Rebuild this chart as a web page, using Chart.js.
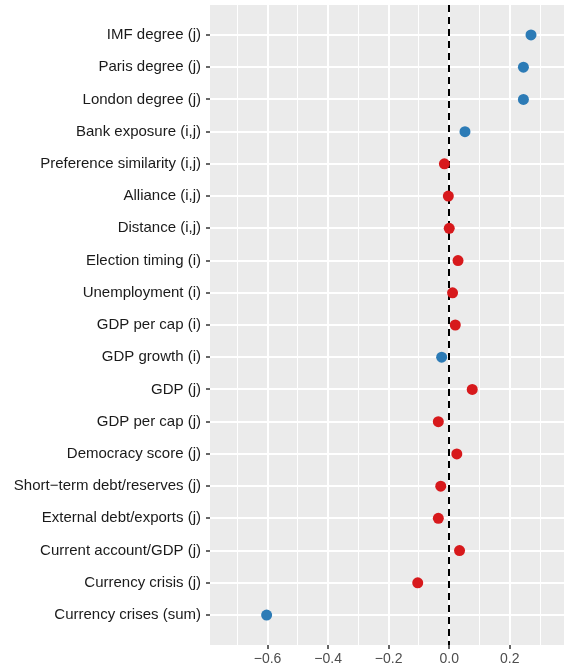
<!DOCTYPE html>
<html>
<head>
<meta charset="utf-8">
<script src="https://cdn.jsdelivr.net/npm/chart.js@4/dist/chart.umd.min.js"></script>
<style>
  html, body { margin: 0; padding: 0; background: #ffffff; }
  #wrap { width: 564px; height: 670px; position: relative; }
</style>
</head>
<body>
<div id="wrap"><canvas id="c" width="564" height="670"></canvas></div>
<script>
// Categories, top to bottom
const categories = [
  "IMF degree (j)",
  "Paris degree (j)",
  "London degree (j)",
  "Bank exposure (i,j)",
  "Preference similarity (i,j)",
  "Alliance (i,j)",
  "Distance (i,j)",
  "Election timing (i)",
  "Unemployment (i)",
  "GDP per cap (i)",
  "GDP growth (i)",
  "GDP (j)",
  "GDP per cap (j)",
  "Democracy score (j)",
  "Short\u2212term debt/reserves (j)",
  "External debt/exports (j)",
  "Current account/GDP (j)",
  "Currency crisis (j)",
  "Currency crises (sum)"
];
// Estimates
const estimates = [0.270, 0.245, 0.245, 0.052, -0.016, -0.003, 0.000, 0.029, 0.011, 0.020,
                   -0.025, 0.076, -0.036, 0.025, -0.028, -0.036, 0.034, -0.104, -0.603];
// Group: "blue" or "red"
const groups = ["blue","blue","blue","blue","red","red","red","red","red","red",
                "blue","red","red","red","red","red","red","red","blue"];
const xMajorTicks = [-0.6, -0.4, -0.2, 0.0, 0.2];
const xMinorTicks = [-0.7, -0.5, -0.3, -0.1, 0.1, 0.3];
const xTickLabels = ["\u22120.6", "\u22120.4", "\u22120.2", "0.0", "0.2"];

const groupColors = { red: "#D7191C", blue: "#2C7BB6" };

const points = estimates.map((v, i) => ({ x: v, y: i }));

const panelBg = {
  id: 'panelBg',
  beforeDraw(chart) {
    const { ctx, chartArea: a } = chart;
    ctx.save();
    ctx.fillStyle = '#EBEBEB';
    ctx.fillRect(a.left, a.top, a.right - a.left, a.bottom - a.top);
    ctx.restore();
  },
  beforeDatasetsDraw(chart) {
    const { ctx, chartArea: a, scales } = chart;
    const x0 = Math.round(scales.x.getPixelForValue(0));
    ctx.save();
    ctx.strokeStyle = '#000000';
    ctx.lineWidth = 2;
    ctx.setLineDash([7, 5]);
    ctx.beginPath();
    ctx.moveTo(x0, a.top);
    ctx.lineTo(x0, a.bottom);
    ctx.stroke();
    ctx.restore();
  }
};

const allX = xMajorTicks.concat(xMinorTicks).sort((a, b) => a - b);
const isMajor = v => xMajorTicks.some(m => Math.abs(m - v) < 1e-9);

new Chart(document.getElementById('c'), {
  type: 'scatter',
  data: {
    datasets: [{
      data: points,
      pointRadius: 5.5,
      pointHoverRadius: 5.5,
      pointBorderWidth: 0,
      pointBackgroundColor: groups.map(g => groupColors[g]),
      pointBorderColor: groups.map(g => groupColors[g])
    }]
  },
  options: {
    responsive: false,
    animation: false,
    devicePixelRatio: 1,
    layout: { autoPadding: false, padding: { top: 5, right: 0, left: 0, bottom: 0 } },
    plugins: { legend: { display: false }, tooltip: { enabled: false } },
    scales: {
      x: {
        type: 'linear',
        min: -0.79,
        max: 0.379,
        afterBuildTicks: ax => { ax.ticks = allX.map(v => ({ value: v })); },
        afterFit: ax => { ax.height = 25; ax.paddingLeft = 0; ax.paddingRight = 0; },
        border: { display: false },
        grid: {
          color: '#FFFFFF',
          lineWidth: c => isMajor(c.tick.value) ? 2 : 1,
          tickColor: c => isMajor(c.tick.value) ? '#333333' : 'rgba(0,0,0,0)',
          tickLength: 4,
          tickWidth: 1.5
        },
        ticks: {
          autoSkip: false,
          maxRotation: 0,
          padding: 2,
          color: '#4D4D4D',
          font: { family: 'Liberation Sans, Arial, sans-serif', size: 14 },
          callback: v => {
            const i = xMajorTicks.findIndex(m => Math.abs(m - v) < 1e-9);
            return i >= 0 ? xTickLabels[i] : '';
          }
        }
      },
      y: {
        type: 'linear',
        reverse: true,
        min: -0.93,
        max: 18.93,
        afterBuildTicks: ax => { ax.ticks = categories.map((_, i) => ({ value: i })); },
        afterFit: ax => { ax.width = 210; ax.paddingTop = 0; ax.paddingBottom = 0; },
        border: { display: false },
        grid: {
          color: '#FFFFFF',
          lineWidth: 2,
          tickColor: '#333333',
          tickLength: 4,
          tickWidth: 1.5
        },
        ticks: {
          autoSkip: false,
          padding: 5,
          color: '#1A1A1A',
          font: { family: 'Liberation Sans, Arial, sans-serif', size: 15 },
          callback: v => categories[Math.round(v)] ?? ''
        }
      }
    }
  },
  plugins: [panelBg]
});
</script>
</body>
</html>
